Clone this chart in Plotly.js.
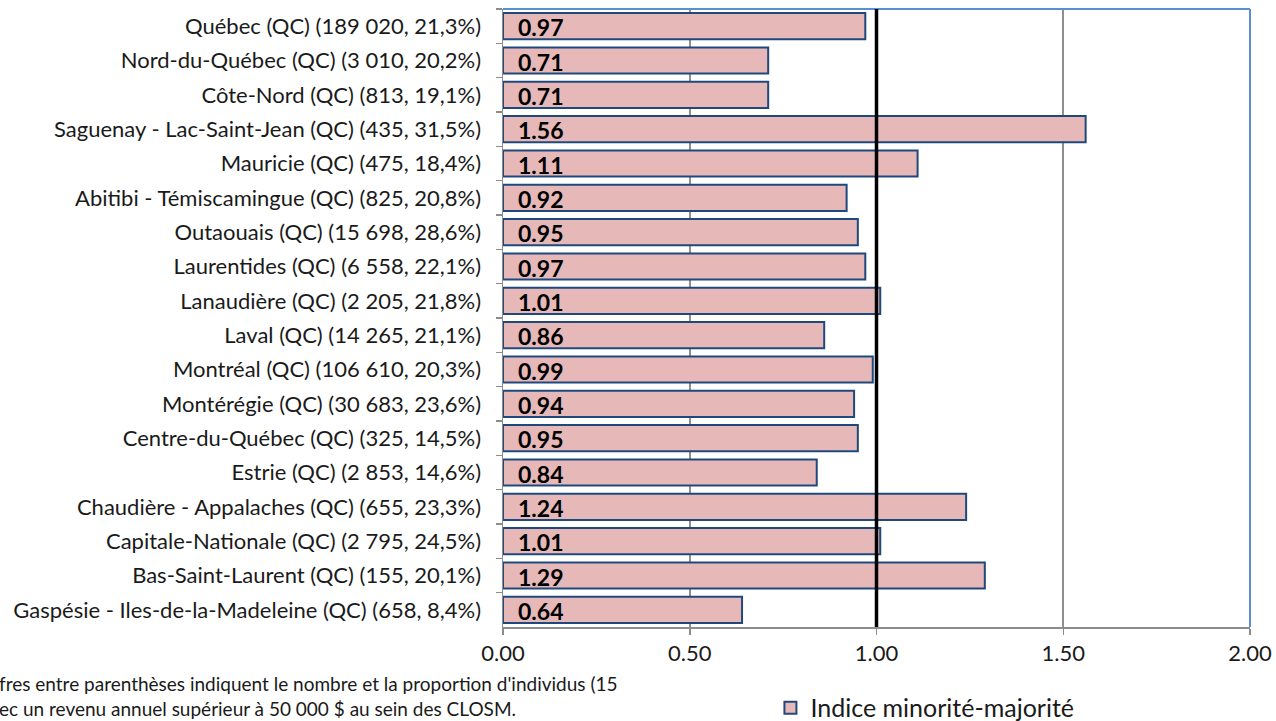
<!DOCTYPE html>
<html><head><meta charset="utf-8">
<script src="https://cdn.plot.ly/plotly-3.0.1.min.js"></script>
<style>html,body{margin:0;padding:0;background:#fff;}#chart{width:1276px;height:721px;}</style>
</head><body><div id="chart"></div>
<script>
const categories = [
  "Québec (QC) (189 020, 21,3%)",
  "Nord-du-Québec (QC) (3 010, 20,2%)",
  "Côte-Nord (QC) (813, 19,1%)",
  "Saguenay - Lac-Saint-Jean (QC) (435, 31,5%)",
  "Mauricie (QC) (475, 18,4%)",
  "Abitibi - Témiscamingue (QC) (825, 20,8%)",
  "Outaouais (QC) (15 698, 28,6%)",
  "Laurentides (QC) (6 558, 22,1%)",
  "Lanaudière (QC) (2 205, 21,8%)",
  "Laval (QC) (14 265, 21,1%)",
  "Montréal (QC) (106 610, 20,3%)",
  "Montérégie (QC) (30 683, 23,6%)",
  "Centre-du-Québec (QC) (325, 14,5%)",
  "Estrie (QC) (2 853, 14,6%)",
  "Chaudière - Appalaches (QC) (655, 23,3%)",
  "Capitale-Nationale (QC) (2 795, 24,5%)",
  "Bas-Saint-Laurent (QC) (155, 20,1%)",
  "Gaspésie - Iles-de-la-Madeleine (QC) (658, 8,4%)"
];
const indexValues = [0.97, 0.71, 0.71, 1.56, 1.11, 0.92, 0.95, 0.97, 1.01, 0.86, 0.99, 0.94, 0.95, 0.84, 1.24, 1.01, 1.29, 0.64];
const seriesName = "Indice minorité-majorité";
const xTicks = [0, 0.5, 1, 1.5, 2];
const xTickLabels = ["0.00", "0.50", "1.00", "1.50", "2.00"];
const referenceValue = 1;
const footnoteLines = [
  "fres entre parenthèses indiquent le nombre et la proportion d'individus (15",
  "ec un revenu annuel supérieur à 50 000 $ au sein des CLOSM."
];

const FONT = "Lato, 'Noto Sans', sans-serif";

const trace = {
  type: "bar",
  orientation: "h",
  name: seriesName,
  y: categories,
  x: indexValues,
  width: 0.76,
  marker: { color: "#E6B9B8", line: { color: "#1F497D", width: 2 } },
  textposition: "none",
  hoverinfo: "x+y",
  showlegend: true
};

const valueLabels = categories.map((c, i) => ({
  text: indexValues[i].toFixed(2),
  xref: "x", yref: "y",
  x: 0, y: c, xanchor: "left", yanchor: "middle",
  xshift: 13, yshift: -1,
  showarrow: false,
  font: { family: FONT, size: 23, color: "#000", weight: "bold" }
}));

const footnote = {
  text: footnoteLines.join("<br>"), xref: "paper", yref: "paper",
  x: -505 / 747, xanchor: "left",
  y: (627 - 696) / 618, yanchor: "middle",
  showarrow: false, align: "left", borderpad: 0,
  font: { family: FONT, size: 19, color: "#1a1a1a" }
};

const layout = {
  width: 1276, height: 721,
  margin: { l: 503, r: 26, t: 9, b: 94, autoexpand: false },
  paper_bgcolor: "#fff", plot_bgcolor: "#fff",
  font: { family: FONT, size: 22, color: "#1a1a1a" },
  xaxis: {
    range: [0, 2],
    tickvals: xTicks, ticktext: xTickLabels,
    showgrid: true, gridcolor: "#8f8f8f", gridwidth: 2,
    zeroline: false,
    showline: true, linecolor: "#8c8c8c", linewidth: 1.5,
    ticks: "outside", ticklen: 6, tickcolor: "#8c8c8c", tickwidth: 1.5,
    tickfont: { family: FONT, size: 22, color: "#1a1a1a" },
    fixedrange: true
  },
  yaxis: {
    type: "category",
    autorange: "reversed",
    showline: true, linecolor: "#8c8c8c", linewidth: 1.5,
    ticks: "outside", ticklen: 6, tickcolor: "#8c8c8c", tickwidth: 1.5,
    tickson: "boundaries",
    showgrid: false,
    ticklabelstandoff: 16,
    tickfont: { family: FONT, size: 22, color: "#1a1a1a" },
    fixedrange: true
  },
  shapes: [
    { type: "line", xref: "paper", yref: "paper", x0: 0, x1: 1, y0: 1, y1: 1, line: { color: "#5B8FD3", width: 2 }, layer: "above" },
    { type: "line", xref: "paper", yref: "paper", x0: 1, x1: 1, y0: 0, y1: 1, line: { color: "#5B8FD3", width: 2 }, layer: "above" },
    { type: "line", xref: "x", yref: "paper", x0: referenceValue, x1: referenceValue, y0: 0, y1: 1, line: { color: "#000", width: 3.5 }, layer: "above" }
  ],
  legend: {
    orientation: "h",
    x: 0.358, xanchor: "left",
    y: -0.131, yanchor: "middle",
    font: { family: FONT, size: 25, color: "#1a1a1a" },
    bgcolor: "rgba(0,0,0,0)",
    itemwidth: 30
  },
  annotations: valueLabels.concat([footnote])
};

Plotly.newPlot("chart", [trace], layout, { displayModeBar: false, staticPlot: true });
</script>
</body></html>
